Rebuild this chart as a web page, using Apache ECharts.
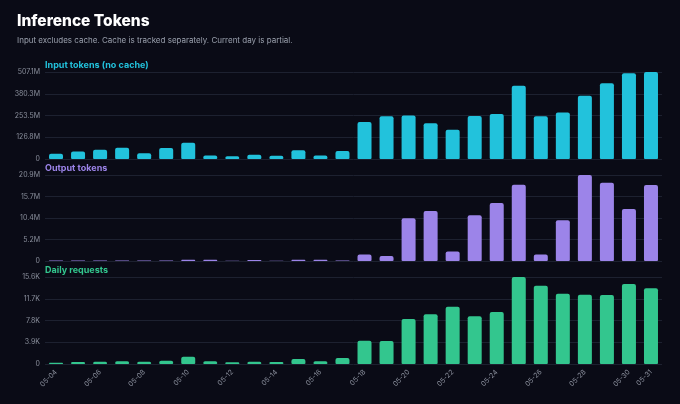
<!DOCTYPE html>
<html>
<head>
<meta charset="utf-8">
<script src="https://cdn.jsdelivr.net/npm/echarts@6/dist/echarts.min.js"></script>
<style>
html,body{margin:0;padding:0;background:#0a0b16;}
#c{width:680px;height:404px;}
</style>
</head>
<body>
<div id="c"></div>
<script>
const dates = ['05-04','05-05','05-06','05-07','05-08','05-09','05-10','05-11','05-12','05-13','05-14','05-15','05-16','05-17','05-18','05-19','05-20','05-21','05-22','05-23','05-24','05-25','05-26','05-27','05-28','05-29','05-30','05-31'];
// millions
const inputTokens = [31,43,54,66,33,64,94,21,16,25,19,51,21,47,216,249,253,208,170,251,263,427,249,271,368,442,500,507.08];
// millions
const outputTokens = [0.1,0.1,0.1,0.1,0.1,0.1,0.3,0.3,0.08,0.25,0.08,0.3,0.3,0.1,1.6,1.2,10.35,12.15,2.3,11.1,14.1,18.5,1.6,9.9,20.88,19.0,12.6,18.45];
// thousands
const dailyRequests = [0.22,0.36,0.42,0.48,0.42,0.6,1.3,0.48,0.3,0.42,0.36,0.9,0.48,1.08,4.18,4.13,8.07,8.9,10.28,8.55,9.32,15.6,14.05,12.6,12.4,12.37,14.35,13.57];

const panelTitles = ['Input tokens (no cache)','Output tokens','Daily requests'];
const units = ['M','M','K'];
const colors = ['#22c2dc','#9c84e9','#33c68e'];
const seriesData = [inputTokens, outputTokens, dailyRequests];

const FONT = 'Inter, "Noto Sans", sans-serif';
const tops = [72, 175, 277];
const heights = [87, 86, 87];

const grids = [], xAxes = [], yAxes = [], series = [];
const titles = [
  {text:'Inference Tokens', left:12, top:8, textStyle:{color:'#ffffff', fontSize:15.5, fontWeight:800, fontFamily:FONT}},
  {text:'Input excludes cache. Cache is tracked separately. Current day is partial.', left:12, top:32, textStyle:{color:'#9aa0ad', fontSize:8, fontWeight:'normal', fontFamily:FONT}}
];
for (let i=0;i<3;i++){
  const mx = Math.max(...seriesData[i]);
  grids.push({left:45, right:18, top:tops[i], height:heights[i]});
  titles.push({text:panelTitles[i], left:40, top:tops[i]-16, textStyle:{color:colors[i], fontSize:9, fontWeight:'bold', fontFamily:FONT}});
  xAxes.push({
    type:'category', gridIndex:i, data:dates,
    axisLine:{show:false}, axisTick:{show:false},
    axisLabel:{show:i===2, rotate:45, color:'#8a8f9c', fontSize:7, fontFamily:FONT, margin:7,
      interval:(idx)=> idx%2===0 || idx===dates.length-1}
  });
  const u = units[i];
  yAxes.push({
    type:'value', gridIndex:i, min:0, max:mx, interval:mx/4,
    axisLine:{show:false}, axisTick:{show:false},
    splitLine:{lineStyle:{color:'#1d2130', width:1}},
    axisLabel:{color:'#8a8f9c', fontSize:7, fontFamily:FONT, margin:5,
      formatter:(v)=> v===0 ? '0' : v.toFixed(1)+u}
  });
  series.push({
    type:'bar', xAxisIndex:i, yAxisIndex:i, data:seriesData[i],
    barWidth:14,
    itemStyle:{color:colors[i], borderRadius:[2,2,1,1]}
  });
}

const chart = echarts.init(document.getElementById('c'), null, {renderer:'canvas'});
chart.setOption({
  backgroundColor:'#0a0b16',
  animation:false,
  title:titles,
  grid:grids,
  xAxis:xAxes,
  yAxis:yAxes,
  series:series
});
</script>
</body>
</html>
